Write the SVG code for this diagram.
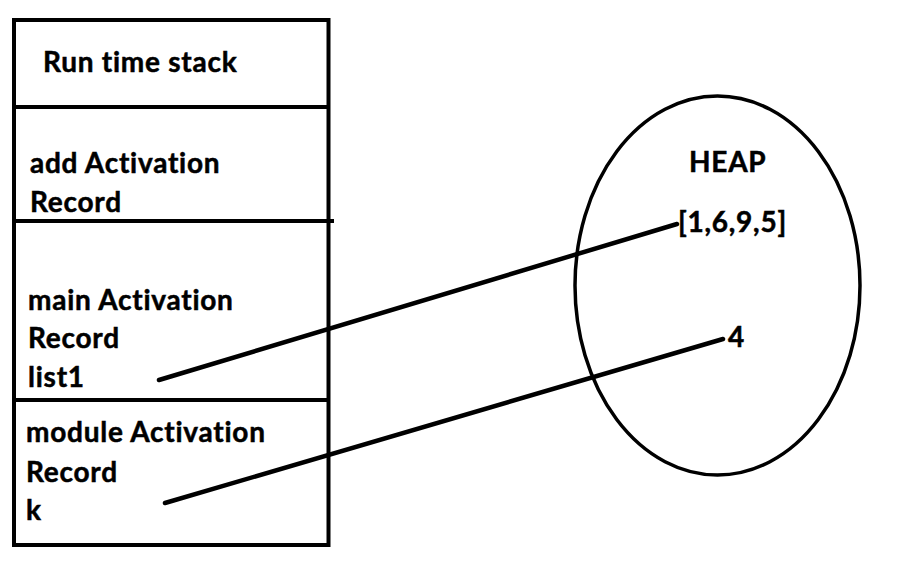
<svg xmlns="http://www.w3.org/2000/svg" width="924" height="562" viewBox="0 0 924 562">
<style>
.t{font-family:Lato,"Open Sans","Liberation Sans",sans-serif;font-weight:bold;font-size:28px;letter-spacing:0.75px;fill:#000;stroke:#000;stroke-width:0.5}
.s{fill:none;stroke:#000;stroke-width:4}
.c{fill:none;stroke:#000;stroke-width:4.5;stroke-linecap:round}
</style>
<rect width="924" height="562" fill="#fff"/>
<g id="stack">
<rect class="s" x="14" y="20" width="314.5" height="525"/>
</g>
<g id="header">
<line class="s" x1="14" y1="107" x2="328.5" y2="107"/>
<text class="t" x="43" y="72">Run time stack</text>
</g>
<g id="add-record">
<line class="s" x1="14" y1="221" x2="334" y2="221"/>
<text class="t" x="30" y="173">add Activation</text>
<text class="t" x="30" y="212">Record</text>
</g>
<g id="main-record">
<line class="s" x1="14" y1="400" x2="328.5" y2="400"/>
<text class="t" x="28" y="310">main Activation</text>
<text class="t" x="28" y="348">Record</text>
<text class="t" x="28" y="387">list1</text>
</g>
<g id="module-record">
<text class="t" x="26" y="442">module Activation</text>
<text class="t" x="26" y="482">Record</text>
<text class="t" x="26" y="520">k</text>
</g>
<g id="heap">
<ellipse cx="717.5" cy="285.5" rx="142.5" ry="189.5" fill="none" stroke="#000" stroke-width="3.5"/>
<text class="t" x="689" y="172">HEAP</text>
<text class="t" x="678" y="232">[1,6,9,5]</text>
<text class="t" x="728" y="347">4</text>
</g>
<g id="connectors">
<line class="c" x1="159" y1="380" x2="677" y2="224"/>
<line class="c" x1="165" y1="503" x2="723" y2="339"/>
</g>
</svg>
